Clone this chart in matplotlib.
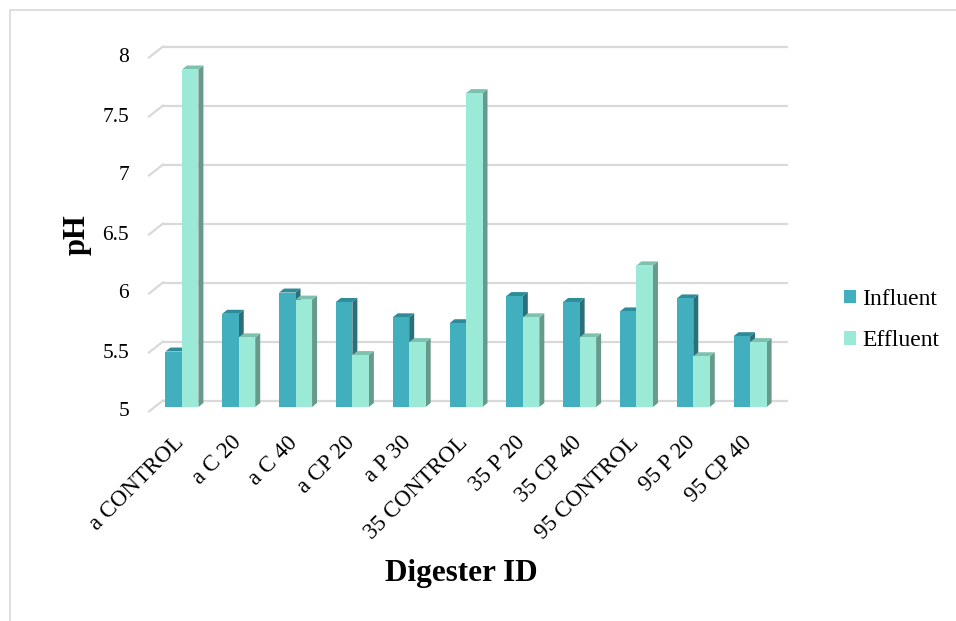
import matplotlib
matplotlib.use("Agg")
import matplotlib.pyplot as plt
from matplotlib.patches import Polygon, Patch
from matplotlib.lines import Line2D

plt.rcParams['font.family'] = ['Liberation Serif', 'DejaVu Serif']

categories = ["a CONTROL", "a C 20", "a C 40", "a CP 20", "a P 30", "35 CONTROL",
              "35 P 20", "35 CP 40", "95 CONTROL", "95 P 20", "95 CP 40"]
influent = [5.47, 5.79, 5.97, 5.89, 5.76, 5.71, 5.94, 5.89, 5.81, 5.92, 5.60]
effluent = [7.86, 5.59, 5.91, 5.44, 5.55, 7.66, 5.76, 5.59, 6.20, 5.43, 5.55]
yticks = [5, 5.5, 6, 6.5, 7, 7.5, 8]
series_names = ["Influent", "Effluent"]

# face colours: front, top, side
inf_cols = ("#41AFBE", "#2E8C99", "#2A6F79")
eff_cols = ("#9BE9D7", "#7CC2AF", "#679A8A")

W, H = 956, 621
fig = plt.figure(figsize=(W / 100, H / 100), dpi=100)
ax_l, ax_r, ax_t, ax_b = 163, 788, 46.5, 400.5
ax = fig.add_axes([ax_l / W, (H - ax_b) / H, (ax_r - ax_l) / W, (ax_b - ax_t) / H])
n = len(categories)
ax.set_xlim(-0.5, n - 0.5)
ax.set_ylim(5, 8)
ax.axis("off")

# pixel -> data scale factors
px2x = n / (ax_r - ax_l)
px2y = 3.0 / (ax_b - ax_t)

grid_c = "#D9D9D9"
wall_dx, wall_dy = 14 * px2x, 11 * px2y

# back-wall gridlines with the side-wall diagonals
for v in yticks:
    ax.plot([-0.5, n - 0.5], [v, v], color=grid_c, lw=1.6, zorder=1,
            clip_on=False, solid_capstyle="butt")
    ax.plot([-0.5, -0.5 - wall_dx], [v, v - wall_dy], color=grid_c, lw=1.6,
            zorder=1, clip_on=False)
    ax.text(-0.5 + (129 - ax_l) * px2x, v - 11.5 * px2y,
            f"{v:g}", ha="right", va="center", fontsize=15.5)

# 3-D style bars
bw = 16.5 * px2x
front_dx = -9.5 * px2x
front_dy = 6.5 * px2y
ddx, ddy = 5 * px2x, 4 * px2y
base = 5.0


def draw_bar(x0, v, cols, z):
    yb = base - front_dy
    yt = v - front_dy
    front = Polygon([(x0, yb), (x0 + bw, yb), (x0 + bw, yt), (x0, yt)],
                    closed=True, facecolor=cols[0], edgecolor="none", zorder=z)
    top = Polygon([(x0, yt), (x0 + bw, yt), (x0 + bw + ddx, yt + ddy), (x0 + ddx, yt + ddy)],
                  closed=True, facecolor=cols[1], edgecolor="none", zorder=z)
    side = Polygon([(x0 + bw, yb), (x0 + bw, yt), (x0 + bw + ddx, yt + ddy), (x0 + bw + ddx, yb + ddy)],
                   closed=True, facecolor=cols[2], edgecolor="none", zorder=z)
    for p in (side, top, front):
        p.set_clip_on(False)
        ax.add_patch(p)


for i in range(n):
    c = i + front_dx
    draw_bar(c - bw, influent[i], inf_cols, 3 + 2 * i)
    draw_bar(c, effluent[i], eff_cols, 4 + 2 * i)
    ax.text(c - 1 * px2x, base - 39 * px2y, categories[i], rotation=45,
            rotation_mode="anchor", ha="right", va="center", fontsize=16.5)

# legend
handles = [Patch(facecolor=inf_cols[0], edgecolor="none"),
           Patch(facecolor=eff_cols[0], edgecolor="none")]
fig.legend(handles, series_names, loc="center left",
           bbox_to_anchor=(844 / W, 1 - 320 / H), frameon=False, borderpad=0,
           borderaxespad=0, fontsize=17, handlelength=0.51, handleheight=0.51,
           handletextpad=0.25, labelspacing=0.87)

fig.text(461 / W, 1 - 573 / H, "Digester ID", ha="center", va="center",
         fontsize=22.5, fontweight="bold")
fig.text(77 / W, 1 - 235 / H, "pH", ha="center", va="center",
         fontsize=22, fontweight="bold", rotation=90)

# outer chart-area frame
fig.add_artist(Line2D([10 / W, 10 / W, 1.0], [0.0, 1 - 10 / H, 1 - 10 / H],
                      transform=fig.transFigure, color="#D9D9D9", lw=1.2))

fig.savefig("out.png", dpi=100)
